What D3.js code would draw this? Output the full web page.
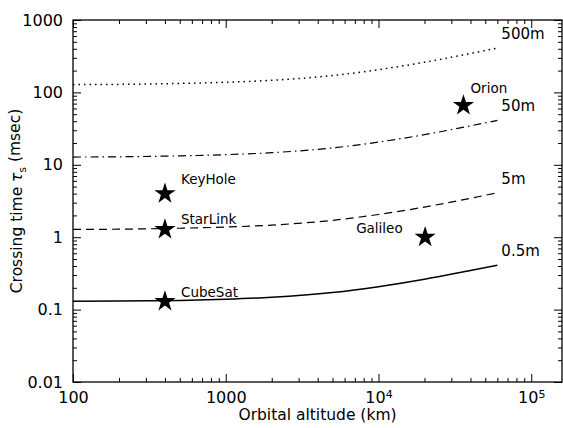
<!DOCTYPE html>
<html>
<head>
<meta charset="utf-8">
<script src="https://cdn.jsdelivr.net/npm/d3@7"></script>
<style>
  body { margin: 0; background: #fff; }
  svg text { font-family: "DejaVu Sans", sans-serif; fill: #000; }
</style>
</head>
<body>
<div id="chart"></div>
<script>
var altitudes = [100, 200, 500, 1000, 2000, 5000, 10000, 20000, 40000, 60000];
// crossing time (msec) for each target size
var tau05m  = [0.13, 0.131, 0.134, 0.139, 0.148, 0.172, 0.207, 0.262, 0.347, 0.41];
var tau5m   = [1.28, 1.29, 1.33, 1.38, 1.47, 1.71, 2.06, 2.61, 3.45, 4.1];
var tau50m  = [12.8, 12.9, 13.3, 13.8, 14.7, 17.1, 20.6, 26.1, 34.5, 41];
var tau500m = [128, 129, 133, 138, 147, 171, 206, 261, 345, 410];
var curveNames = ["0.5m", "5m", "50m", "500m"];

// satellites
var satNames = ["CubeSat", "StarLink", "KeyHole", "Galileo", "Orion"];
var satAltitude = [400, 400, 400, 20200, 36000];
var satTau = [0.13, 1.28, 4.0, 1.0, 66];

// tick labels
var xTickValues = [100, 1000, 1e4, 1e5];
var yTickValues = [0.01, 0.1, 1, 10, 100, 1000];
var yTickLabels = ["0.01", "0.1", "1", "10", "100", "1000"];

var margin = { top: 20, right: 1, bottom: 46, left: 73 };
var W = 563, H = 428;
var w = W - margin.left - margin.right;
var h = H - margin.top - margin.bottom;

var svg = d3.select("#chart").append("svg")
  .attr("width", W).attr("height", H);
var g = svg.append("g")
  .attr("transform", "translate(" + margin.left + "," + margin.top + ")");

var x = d3.scaleLog().domain([100, 1.59e5]).range([0, w]);
var y = d3.scaleLog().domain([0.01, 1000]).range([h, 0]);

// minor tick values
var xMinor = [];
for (var e = 2; e <= 5; e++) for (var m = 2; m <= 9; m++) {
  var v = m * Math.pow(10, e);
  if (v <= x.domain()[1]) xMinor.push(v);
}
var yMinor = [];
for (var e2 = -2; e2 <= 2; e2++) for (var m2 = 2; m2 <= 9; m2++) yMinor.push(m2 * Math.pow(10, e2));

function styleAxis(sel) {
  sel.select(".domain").remove();
  sel.selectAll("line").attr("stroke", "#000").attr("stroke-width", 1);
  sel.selectAll("text").style("font-size", "16px").attr("fill", "#000");
}

// bottom
g.append("g").attr("transform", "translate(0," + h + ")")
  .call(d3.axisBottom(x).tickValues(xMinor).tickSize(-4).tickFormat(""))
  .call(styleAxis);
var xb = g.append("g").attr("transform", "translate(0," + h + ")")
  .call(d3.axisBottom(x).tickValues(xTickValues).tickSize(-8).tickPadding(10)
    .tickFormat(function (d) { return d < 1e4 ? d3.format("d")(d) : ""; }))
  .call(styleAxis);
// powers of ten with superscripts
xb.selectAll(".tick text").each(function (d) {
  if (d >= 1e4) {
    var t = d3.select(this);
    t.append("tspan").text("10");
    t.append("tspan").attr("dy", "-0.45em").style("font-size", "11px").text(Math.round(Math.log10(d)));
  }
});
// top
g.append("g")
  .call(d3.axisTop(x).tickValues(xMinor).tickSize(-4).tickFormat(""))
  .call(styleAxis);
g.append("g")
  .call(d3.axisTop(x).tickValues(xTickValues).tickSize(-8).tickFormat(""))
  .call(styleAxis);
// left
g.append("g")
  .call(d3.axisLeft(y).tickValues(yMinor).tickSize(-4).tickFormat(""))
  .call(styleAxis);
g.append("g")
  .call(d3.axisLeft(y).tickValues(yTickValues).tickSize(-8).tickPadding(10)
    .tickFormat(function (d, i) { return yTickLabels[i]; }))
  .call(styleAxis);
// right
g.append("g").attr("transform", "translate(" + w + ",0)")
  .call(d3.axisRight(y).tickValues(yMinor).tickSize(-4).tickFormat(""))
  .call(styleAxis);
g.append("g").attr("transform", "translate(" + w + ",0)")
  .call(d3.axisRight(y).tickValues(yTickValues).tickSize(-8).tickFormat(""))
  .call(styleAxis);

// frame
g.append("rect").attr("width", w).attr("height", h)
  .attr("fill", "none").attr("stroke", "#000").attr("stroke-width", 1.3);

// curves
var series = [tau05m, tau5m, tau50m, tau500m];
var dashes = [null, "8,5", "8,4,1.5,4", "1.5,4"];
var widths = [1.5, 1.2, 1.2, 1.5];
var line = d3.line()
  .x(function (d) { return x(d[0]); })
  .y(function (d) { return y(d[1]); })
  .curve(d3.curveMonotoneX);

series.forEach(function (s, i) {
  var pts = altitudes.map(function (a, j) { return [a, s[j]]; });
  g.append("path").datum(pts)
    .attr("d", line)
    .attr("fill", "none")
    .attr("stroke", "#000")
    .attr("stroke-width", widths[i])
    .attr("stroke-dasharray", dashes[i]);
  var last = pts[pts.length - 1];
  g.append("text")
    .attr("x", x(last[0]) + 4)
    .attr("y", y(last[1]) - 9)
    .style("font-size", "15px")
    .text(curveNames[i]);
});

// satellites
var star = d3.symbol().type(d3.symbolStar).size(140);
var labelOffsets = [[16, -4], [16, -5], [16, -10], [-69, -4], [7, -12]];
satNames.forEach(function (n, i) {
  var px = x(satAltitude[i]), py = y(satTau[i]);
  g.append("path")
    .attr("d", star)
    .attr("transform", "translate(" + px + "," + py + ")")
    .attr("fill", "#000");
  g.append("text")
    .attr("x", px + labelOffsets[i][0])
    .attr("y", py + labelOffsets[i][1])
    .style("font-size", "13.5px")
    .text(n);
});

// axis titles
svg.append("text")
  .attr("x", margin.left + w / 2)
  .attr("y", H - 8)
  .attr("text-anchor", "middle")
  .style("font-size", "15.5px")
  .text("Orbital altitude (km)");

var yl = svg.append("text")
  .attr("transform", "translate(22," + (margin.top + h / 2) + ") rotate(-90)")
  .attr("text-anchor", "middle")
  .style("font-size", "15.5px");
yl.append("tspan").text("Crossing time ");
yl.append("tspan").style("font-style", "italic").text("τ");
yl.append("tspan").attr("dy", "0.35em").style("font-size", "10.5px").text("s");
yl.append("tspan").attr("dy", "-0.35em").text(" (msec)");
</script>
</body>
</html>
